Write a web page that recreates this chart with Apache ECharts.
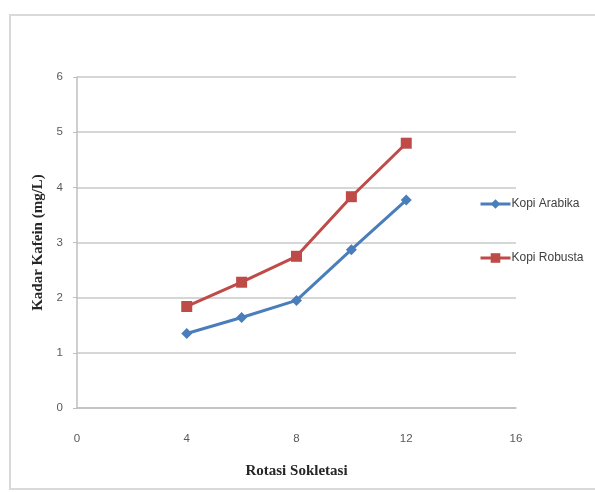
<!DOCTYPE html>
<html>
<head>
<meta charset="utf-8">
<script src="https://cdn.jsdelivr.net/npm/echarts@6/dist/echarts.min.js"></script>
<style>
  html, body { margin: 0; padding: 0; background: #fff; }
  #chart { width: 595px; height: 492px; }
</style>
</head>
<body>
<div id="chart"></div>
<script>
// Soxhlet rotations (x) and caffeine content in mg/L (y)
const rotations = [4, 6, 8, 10, 12];
const arabika = [1.35, 1.64, 1.95, 2.87, 3.77];
const robusta = [1.84, 2.28, 2.75, 3.83, 4.80];
const xTicks = [0, 4, 8, 12, 16];
const yTicks = [0, 1, 2, 3, 4, 5, 6];

const pair = (xs, ys) => xs.map((x, i) => [x, ys[i]]);

const chart = echarts.init(document.getElementById('chart'), null, { renderer: 'canvas' });

const tickFont = { fontFamily: 'Liberation Sans', fontSize: 11.5, color: '#595959' };

chart.setOption({
  animation: false,
  backgroundColor: '#ffffff',
  graphic: [{
    type: 'rect',
    shape: { x: 10, y: 15, width: 600, height: 474 },
    style: { fill: 'none', stroke: '#d9d9d9', lineWidth: 2 },
    silent: true
  }],
  grid: { left: 77, top: 77, width: 439, height: 331 },
  legend: {
    orient: 'vertical',
    left: 474,
    top: 193,
    itemGap: 42,
    itemWidth: 30,
    itemHeight: 12,
    lineStyle: { width: 3 },
    textStyle: { fontFamily: 'Liberation Sans Narrow, Liberation Sans', fontSize: 12, color: '#404040', padding: [0, 0, 0, -4] },
    data: ['Kopi Arabika', 'Kopi Robusta']
  },
  xAxis: {
    type: 'value',
    min: xTicks[0],
    max: xTicks[xTicks.length - 1],
    interval: 4,
    name: 'Rotasi Sokletasi',
    nameLocation: 'middle',
    nameGap: 56,
    nameTextStyle: { fontFamily: 'Liberation Serif', fontWeight: 'bold', fontSize: 15, color: '#262626' },
    axisLine: { show: true, lineStyle: { color: '#bfbfbf', width: 1.5 } },
    axisTick: { show: false },
    axisLabel: Object.assign({ margin: 25 }, tickFont),
    splitLine: { show: false }
  },
  yAxis: {
    type: 'value',
    min: yTicks[0],
    max: yTicks[yTicks.length - 1],
    interval: 1,
    name: 'Kadar Kafein (mg/L)',
    nameLocation: 'middle',
    nameGap: 30,
    nameRotate: 90,
    nameTextStyle: { fontFamily: 'Liberation Serif', fontWeight: 'bold', fontSize: 15, color: '#262626' },
    axisLine: { show: true, lineStyle: { color: '#bfbfbf', width: 1.5 } },
    axisTick: { show: true, length: 4, lineStyle: { color: '#bfbfbf' } },
    axisLabel: Object.assign({ margin: 14 }, tickFont),
    splitLine: { show: true, lineStyle: { color: '#c8c8c8', width: 1.5 } }
  },
  series: [
    {
      name: 'Kopi Arabika',
      type: 'line',
      data: pair(rotations, arabika),
      symbol: 'diamond',
      symbolSize: 11,
      color: '#4a7ebb',
      lineStyle: { width: 3, color: '#4a7ebb' },
      itemStyle: { color: '#4a7ebb' }
    },
    {
      name: 'Kopi Robusta',
      type: 'line',
      data: pair(rotations, robusta),
      symbol: 'rect',
      symbolSize: 11,
      color: '#be4b48',
      lineStyle: { width: 3, color: '#be4b48' },
      itemStyle: { color: '#be4b48' }
    }
  ]
});
</script>
</body>
</html>
